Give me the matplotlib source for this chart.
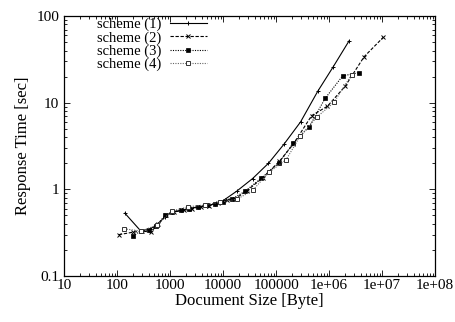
import matplotlib
matplotlib.use("Agg")
import matplotlib.pyplot as plt
from matplotlib.ticker import LogLocator, FixedLocator, FixedFormatter, NullFormatter

# data (log-log)
scheme1_x = [140, 280, 420, 560, 800, 1100, 1600, 2300, 3400, 5000, 7000, 10000,
             18000, 36000, 72000, 140000, 290000, 610000, 1200000, 2400000]
scheme1_y = [0.53, 0.33, 0.35, 0.39, 0.48, 0.55, 0.57, 0.60, 0.63, 0.65, 0.68, 0.74,
             0.95, 1.33, 2.0, 3.3, 6.0, 13.5, 26, 52]

scheme2_x = [108, 200, 300, 430, 600, 850, 1200, 1800, 2600, 3800, 5500, 8000,
             12000, 17000, 28000, 56000, 115000, 210000, 470000, 930000,
             2000000, 4600000, 10600000]
scheme2_y = [0.30, 0.32, 0.33, 0.32, 0.40, 0.50, 0.55, 0.57, 0.60, 0.63, 0.65, 0.70,
             0.75, 0.78, 0.96, 1.36, 2.1, 3.3, 7.1, 9.1, 15.4, 34, 57]

scheme3_x = [200, 280, 400, 550, 800, 1100, 1600, 2300, 3400, 5000, 7000, 10000,
             15000, 26000, 53000, 115000, 212000, 425000, 841000, 1810000, 3730000]
scheme3_y = [0.29, 0.33, 0.34, 0.38, 0.50, 0.55, 0.57, 0.60, 0.63, 0.66, 0.68, 0.72,
             0.78, 0.95, 1.35, 2.03, 3.44, 5.3, 11.2, 20.4, 22.3]

scheme4_x = [137, 280, 561, 1070, 2200, 4500, 8800, 18300, 36000, 74000, 155000,
             284000, 586000, 1240000, 2680000]
scheme4_y = [0.35, 0.33, 0.385, 0.56, 0.63, 0.66, 0.71, 0.77, 0.97, 1.58, 2.2,
             4.1, 6.8, 10.1, 21.1]

labels = ["scheme (1)", "scheme (2)", "scheme (3)", "scheme (4)"]
x_ticks = [10, 100, 1000, 10000, 100000, 1e6, 1e7, 1e8]
x_ticklabels = ["10", "100", "1000", "10000", "100000", "1e+06", "1e+07", "1e+08"]
y_ticks = [0.1, 1, 10, 100]
y_ticklabels = ["0.1", "1", "10", "100"]

plt.rcParams["font.family"] = ["Liberation Serif", "DejaVu Serif"]

fig = plt.figure(figsize=(4.55, 3.22), dpi=100)
ax = fig.add_axes([0.141, 0.143, 0.815, 0.807])

lw = 0.8
ax.plot(scheme1_x, scheme1_y, color="black", lw=lw, ls="-", marker="+",
        ms=3.5, mew=0.7, label=labels[0])
ax.plot(scheme2_x, scheme2_y, color="black", lw=lw, ls=(0, (3, 1.5)), marker="x",
        ms=3.5, mew=0.7, label=labels[1])
ax.plot(scheme3_x, scheme3_y, color="black", lw=lw, ls=(0, (1, 1.2)), marker="s",
        ms=3, mew=0.5, label=labels[2])
ax.plot(scheme4_x, scheme4_y, color="#666666", lw=lw, ls=(0, (1, 1.2)), marker="s",
        ms=3.5, mew=0.7, mfc="white", mec="#333333", label=labels[3])

ax.set_xscale("log")
ax.set_yscale("log")
ax.set_xlim(10, 1e8)
ax.set_ylim(0.1, 100)

ax.xaxis.set_major_locator(FixedLocator(x_ticks))
ax.xaxis.set_major_formatter(FixedFormatter(x_ticklabels))
ax.yaxis.set_major_locator(FixedLocator(y_ticks))
ax.yaxis.set_major_formatter(FixedFormatter(y_ticklabels))
ax.xaxis.set_minor_locator(LogLocator(base=10, subs=range(2, 10), numticks=20))
ax.yaxis.set_minor_locator(LogLocator(base=10, subs=range(2, 10), numticks=20))
ax.xaxis.set_minor_formatter(NullFormatter())
ax.yaxis.set_minor_formatter(NullFormatter())

ax.tick_params(which="both", direction="in", top=True, right=True, labelsize=11,
               width=0.6)
ax.tick_params(which="major", length=4)
ax.tick_params(which="minor", length=2)
ax.tick_params(axis="x", pad=2)
for s in ax.spines.values():
    s.set_linewidth(0.9)

ax.set_xlabel("Document Size [Byte]", fontsize=12, labelpad=1)
ax.set_ylabel("Response Time [sec]", fontsize=12, labelpad=4)

ax.legend(loc="upper left", bbox_to_anchor=(0.085, 1.0), frameon=False,
          markerfirst=False, fontsize=10.5, handlelength=2.5, handletextpad=0.6,
          labelspacing=0.0, borderpad=0.1, borderaxespad=0.0)

fig.savefig("out.png", dpi=100)
